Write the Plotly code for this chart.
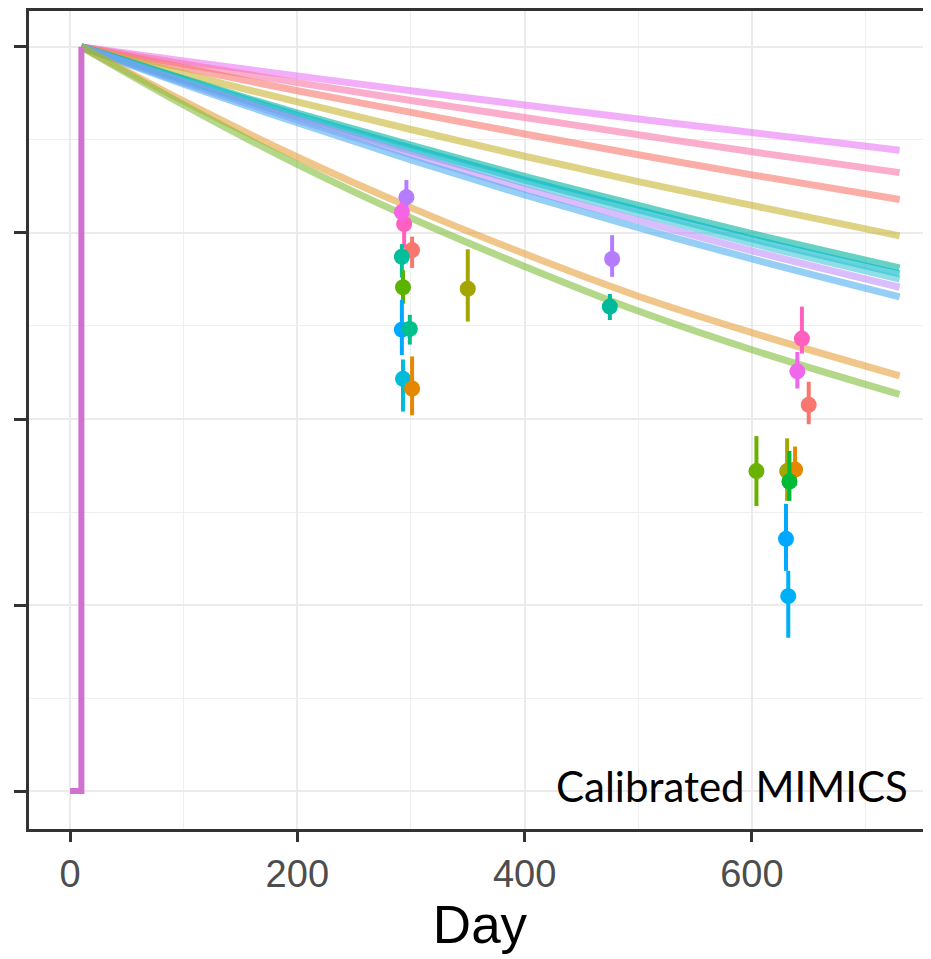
import plotly.graph_objects as go

# ---- model curves (fraction remaining vs day) ----
curve_days = [10, 100, 200, 300, 400, 500, 600, 730]
curve_names = ["c1", "c2", "c3", "c4", "c5", "c6", "c7", "c8", "c9", "c10", "c11"]
curve_values = [
    [1.0, 0.981, 0.961, 0.941, 0.922, 0.903, 0.885, 0.861],
    [1.0, 0.977, 0.952, 0.928, 0.905, 0.882, 0.859, 0.831],
    [1.0, 0.972, 0.941, 0.912, 0.883, 0.855, 0.828, 0.795],
    [1.0, 0.964, 0.926, 0.889, 0.853, 0.819, 0.787, 0.746],
    [1.0, 0.957, 0.911, 0.868, 0.826, 0.787, 0.749, 0.703],
    [1.0, 0.956, 0.908, 0.864, 0.821, 0.781, 0.742, 0.695],
    [1.0, 0.954, 0.906, 0.860, 0.817, 0.776, 0.736, 0.688],
    [1.0, 0.952, 0.902, 0.855, 0.809, 0.767, 0.726, 0.677],
    [1.0, 0.950, 0.898, 0.848, 0.801, 0.757, 0.715, 0.664],
    [1.0, 0.927, 0.852, 0.784, 0.722, 0.665, 0.616, 0.558],
    [1.0, 0.922, 0.842, 0.770, 0.705, 0.645, 0.593, 0.533],
]
curve_colors = [
    "rgba(231,107,243,0.55)", "rgba(248,118,170,0.6)", "rgba(248,118,109,0.6)",
    "rgba(200,180,50,0.6)", "rgba(0,180,160,0.6)", "rgba(0,184,200,0.6)",
    "rgba(70,200,215,0.6)", "rgba(185,135,250,0.55)", "rgba(80,175,240,0.6)",
    "rgba(232,160,60,0.6)", "rgba(130,190,60,0.6)",
]

# initial step (litter added)
step_days = [0, 10, 10]
step_values = [0.0, 0.0, 1.0]

# ---- observations ----
obs_day = [296, 294, 292, 301, 292, 293, 292, 299, 293, 301, 350, 477, 475,
           644, 640, 650, 604, 631, 638, 633, 630, 632]
obs_val = [0.798, 0.762, 0.778, 0.727, 0.718, 0.677, 0.620, 0.621, 0.554, 0.541, 0.675, 0.715, 0.651,
           0.608, 0.564, 0.519, 0.430, 0.430, 0.432, 0.416, 0.339, 0.262]
obs_lo = [0.776, 0.730, 0.765, 0.703, 0.690, 0.655, 0.586, 0.600, 0.510, 0.505, 0.631, 0.691, 0.633,
          0.588, 0.541, 0.493, 0.383, 0.390, 0.410, 0.390, 0.296, 0.206]
obs_hi = [0.821, 0.786, 0.792, 0.745, 0.735, 0.700, 0.660, 0.640, 0.580, 0.584, 0.728, 0.747, 0.668,
          0.651, 0.590, 0.550, 0.477, 0.474, 0.463, 0.457, 0.386, 0.296]
obs_color = ["#B57CFF", "#FF5FBF", "#F564E3", "#F8766D", "#00BF9A", "#5BB300", "#00A9FF", "#00C08B",
             "#00BCD8", "#E58700", "#A3A500", "#B57CFF", "#00B99B",
             "#FF5FBF", "#EF67EB", "#F8766D", "#6BB100", "#A3A500", "#E58700", "#00BA38",
             "#00A9FF", "#00B0F6"]

x_ticks = [0, 200, 400, 600]
y_ticks = [0, 0.25, 0.5, 0.75, 1.0]
label_text = "Calibrated MIMICS"
x_title = "Day"

fig = go.Figure()
for name, vals, col in zip(curve_names, curve_values, curve_colors):
    fig.add_trace(go.Scatter(x=curve_days, y=vals, mode="lines", name=name,
                             line=dict(color=col, width=7, shape="spline"),
                             showlegend=False, hoverinfo="skip"))

fig.add_trace(go.Scatter(x=step_days, y=step_values, mode="lines",
                         line=dict(color="#D070D0", width=6), showlegend=False))

for d, v, lo, hi, c in zip(obs_day, obs_val, obs_lo, obs_hi, obs_color):
    fig.add_trace(go.Scatter(
        x=[d], y=[v], mode="markers",
        marker=dict(color=c, size=16),
        error_y=dict(type="data", symmetric=False, array=[hi - v], arrayminus=[v - lo],
                     color=c, thickness=4, width=0),
        showlegend=False))

fig.add_annotation(text=label_text, xref="paper", yref="paper", x=0.977, y=0.052,
                   xanchor="right", yanchor="middle", showarrow=False,
                   font=dict(family="Lato", size=42, color="black"))

fig.update_layout(
    width=923, height=951,
    margin=dict(l=21, r=0, t=0, b=130),
    plot_bgcolor="white", paper_bgcolor="white",
    showlegend=False,
)
fig.update_xaxes(
    range=[-36.1, 757.6], tickvals=x_ticks, ticktext=[str(t) for t in x_ticks],
    showgrid=True, gridcolor="#EBEBEB", gridwidth=2,
    minor=dict(dtick=100, tick0=100, showgrid=True, gridcolor="#EFEFEF", gridwidth=1.2),
    showline=True, linecolor="#333333", linewidth=2.5, mirror=True,
    ticks="outside", ticklen=10, tickwidth=2.5, tickcolor="#333333",
    tickfont=dict(family="Liberation Sans, Arial", size=38, color="#4D4D4D"),
    title=dict(text=x_title, font=dict(family="Liberation Sans, Arial", size=53, color="black"), standoff=8),
    zeroline=False,
)
fig.update_yaxes(
    range=[-0.0509, 1.0482], tickvals=y_ticks, showticklabels=False,
    showgrid=True, gridcolor="#EBEBEB", gridwidth=2,
    minor=dict(dtick=0.25, tick0=0.125, showgrid=True, gridcolor="#EFEFEF", gridwidth=1.2),
    showline=True, linecolor="#333333", linewidth=2.5,
    ticks="outside", ticklen=12, tickwidth=3, tickcolor="#333333",
    zeroline=False,
)

fig.write_html("out.html")
